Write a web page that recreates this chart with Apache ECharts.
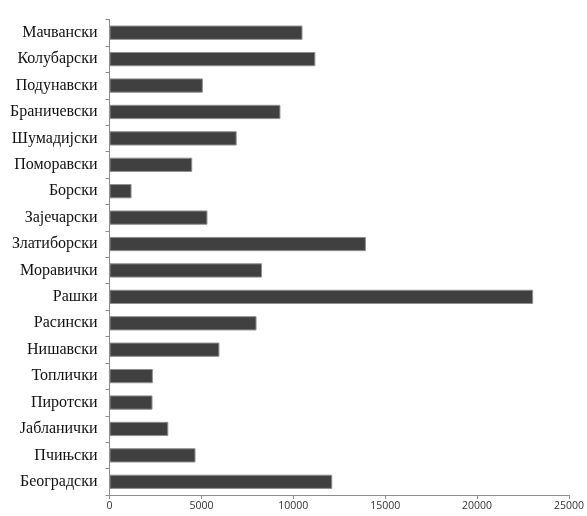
<!DOCTYPE html>
<html>
<head>
<meta charset="utf-8">
<script src="https://cdn.jsdelivr.net/npm/echarts@6/dist/echarts.min.js"></script>
<style>html,body{margin:0;padding:0;background:#fff;}#c{width:587px;height:516px;}</style>
</head>
<body>
<div id="c"></div>
<script>
const categories = ["Мачвански","Колубарски","Подунавски","Браничевски","Шумадијски","Поморавски","Борски","Зајечарски","Златиборски","Моравички","Рашки","Расински","Нишавски","Топлички","Пиротски","Јабланички","Пчињски","Београдски"];
const values = [10500,11200,5080,9300,6920,4500,1200,5330,13950,8300,23050,8000,5980,2360,2340,3200,4680,12120];
const xTicks = {min: 0, max: 25000, interval: 5000};

const chart = echarts.init(document.getElementById('c'), null, {renderer: 'canvas'});
chart.setOption({
  animation: false,
  backgroundColor: '#ffffff',
  grid: {left: 109.5, right: 17.7, top: 19.5, bottom: 21, containLabel: false},
  xAxis: {
    type: 'value',
    min: xTicks.min, max: xTicks.max, interval: xTicks.interval,
    splitLine: {show: false},
    axisLine: {show: true, lineStyle: {color: '#8c8c8c', width: 1}},
    axisTick: {show: true, length: 4, lineStyle: {color: '#8c8c8c'}},
    axisLabel: {color: '#333', fontFamily: 'Open Sans, Liberation Sans, sans-serif', fontSize: 10.5, margin: 6,
      formatter: v => String(v)}
  },
  yAxis: {
    type: 'category',
    data: categories,
    inverse: true,
    axisLine: {show: true, lineStyle: {color: '#8c8c8c', width: 1}},
    axisTick: {show: true, length: 4, alignWithLabel: false, lineStyle: {color: '#8c8c8c'}},
    axisLabel: {color: '#111', fontFamily: 'Liberation Serif, Times New Roman, serif', fontSize: 16, margin: 12}
  },
  series: [{
    type: 'bar',
    data: values,
    barCategoryGap: '46%',
    itemStyle: {color: '#404040', borderColor: '#8f8f8f', borderWidth: 1}
  }]
});
</script>
</body>
</html>
